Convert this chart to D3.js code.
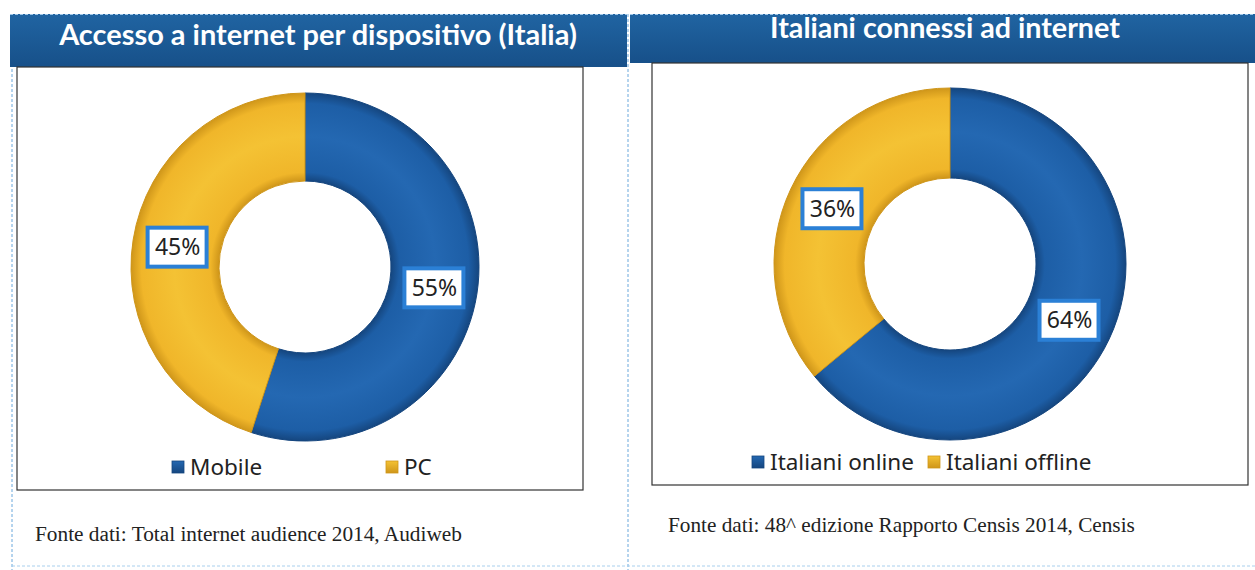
<!DOCTYPE html>
<html><head><meta charset="utf-8">
<script src="https://cdn.jsdelivr.net/npm/d3@7"></script>
<style>html,body{margin:0;padding:0;background:#fff;}svg{display:block;}</style>
</head><body>
<svg id="c" width="1255" height="570"></svg>
<script>
const leftTitle = "Accesso a internet per dispositivo (Italia)";
const leftCategories = ["Mobile", "PC"];
const leftValues = [55, 45];
const leftSource = "Fonte dati: Total internet audience 2014, Audiweb";

const rightTitle = "Italiani connessi ad internet";
const rightCategories = ["Italiani online", "Italiani offline"];
const rightValues = [64, 36];
const rightSource = "Fonte dati: 48^ edizione Rapporto Censis 2014, Censis";

const svg = d3.select("#c");
const defs = svg.append("defs");

const colors = {
  blue: {base: "#1d5ea6", light: "#2468b2", dark: "#15467f"},
  yellow: {base: "#f0b62a", light: "#f4c234", dark: "#cf961a"}
};

const panels = [
  {title: leftTitle, cats: leftCategories, vals: leftValues, src: leftSource,
   band: [10, 14, 617, 53], titleX: 318, titleY: 45, titleW: 518,
   box: [17, 67, 566, 423], cx: 305, cy: 267, ro: 174, ri: 86,
   legY: 467, legX: [172, 386], srcX: 35, srcY: 541, srcW: 427},
  {title: rightTitle, cats: rightCategories, vals: rightValues, src: rightSource,
   band: [630, 14, 625, 49], titleX: 945, titleY: 38, titleW: 350,
   box: [652, 63, 596, 422], cx: 950, cy: 264, ro: 176, ri: 86,
   legY: 462, legX: [752, 928], srcX: 668, srcY: 532, srcW: 467}
];

const bg = defs.append("linearGradient").attr("id", "band").attr("x1", 0).attr("y1", 0).attr("x2", 0).attr("y2", 1);
bg.append("stop").attr("offset", 0).attr("stop-color", "#2064a2");
bg.append("stop").attr("offset", 1).attr("stop-color", "#175089");

svg.append("line").attr("x1", 12).attr("x2", 12).attr("y1", 14).attr("y2", 570)
  .attr("stroke", "#6aa8dc").attr("stroke-width", 1).attr("stroke-dasharray", "3,2");
svg.append("line").attr("x1", 628).attr("x2", 628).attr("y1", 14).attr("y2", 570)
  .attr("stroke", "#6aa8dc").attr("stroke-width", 1).attr("stroke-dasharray", "3,2");
svg.append("line").attr("x1", 12).attr("x2", 1255).attr("y1", 566).attr("y2", 566)
  .attr("stroke", "#a9d0ee").attr("stroke-width", 1).attr("stroke-dasharray", "3,2");

panels.forEach((p, pi) => {
  svg.append("rect").attr("x", p.band[0]).attr("y", p.band[1]).attr("width", p.band[2]).attr("height", p.band[3])
    .attr("fill", "url(#band)");
  svg.append("line").attr("x1", p.band[0]).attr("x2", p.band[0] + p.band[2]).attr("y1", p.band[1] + 0.5).attr("y2", p.band[1] + 0.5)
    .attr("stroke", "#9cc4e6").attr("stroke-dasharray", "3,2");
  const t = svg.append("text").attr("x", p.titleX).attr("y", p.titleY).attr("text-anchor", "middle")
    .attr("fill", "#fff").attr("font-family", "Lato, 'Open Sans', sans-serif").attr("font-weight", "bold")
    .attr("font-size", 26).text(p.title);
  const w = t.node().getComputedTextLength();
  t.attr("font-size", 26 * p.titleW / w);

  svg.append("rect").attr("x", p.box[0]).attr("y", p.box[1]).attr("width", p.box[2]).attr("height", p.box[3])
    .attr("fill", "#fff").attr("stroke", "#333").attr("stroke-width", 1.2);

  const colorKeys = ["blue", "yellow"];
  colorKeys.forEach(k => {
    const g = defs.append("radialGradient").attr("id", `g${pi}${k}`).attr("gradientUnits", "userSpaceOnUse")
      .attr("cx", 0).attr("cy", 0).attr("r", p.ro);
    const f = p.ri / p.ro;
    g.append("stop").attr("offset", f).attr("stop-color", colors[k].dark);
    g.append("stop").attr("offset", f + 0.05).attr("stop-color", colors[k].base);
    g.append("stop").attr("offset", 0.75).attr("stop-color", colors[k].light);
    g.append("stop").attr("offset", 0.94).attr("stop-color", colors[k].base);
    g.append("stop").attr("offset", 1).attr("stop-color", colors[k].dark);
  });

  const pie = d3.pie().sort(null).value(d => d)(p.vals);
  const arc = d3.arc().innerRadius(p.ri).outerRadius(p.ro);
  const g = svg.append("g").attr("transform", `translate(${p.cx},${p.cy})`);
  g.selectAll("path").data(pie).join("path")
    .attr("d", arc)
    .attr("fill", (d, i) => `url(#g${pi}${colorKeys[i]})`)
    .attr("stroke", (d, i) => colors[colorKeys[i]].dark).attr("stroke-width", 1);

  const lab = g.selectAll("g.lab").data(pie).join("g").attr("class", "lab")
    .attr("transform", d => `translate(${arc.centroid(d)})`);
  lab.append("rect").attr("x", -29).attr("y", -19).attr("width", 59).attr("height", 39)
    .attr("fill", "#fff").attr("stroke", "#2b80d6").attr("stroke-width", 4);
  lab.append("text").attr("text-anchor", "middle").attr("x", 1).attr("dy", "0.36em")
    .attr("font-family", "'Noto Sans', 'Open Sans', sans-serif").attr("font-size", 23).attr("fill", "#222")
    .text(d => d.data + "%");

  p.cats.forEach((c, i) => {
    const lg = defs.append("linearGradient").attr("id", `lg${pi}${i}`).attr("x1", 0).attr("y1", 0).attr("x2", 0).attr("y2", 1);
    lg.append("stop").attr("offset", 0).attr("stop-color", colors[colorKeys[i]].light);
    lg.append("stop").attr("offset", 1).attr("stop-color", colors[colorKeys[i]].dark);
    svg.append("rect").attr("x", p.legX[i]).attr("y", p.legY - 6).attr("width", 12).attr("height", 12)
      .attr("fill", `url(#lg${pi}${i})`).attr("stroke", colors[colorKeys[i]].dark).attr("stroke-width", 0.8);
    svg.append("text").attr("x", p.legX[i] + 18).attr("y", p.legY).attr("dy", "0.36em")
      .attr("font-family", "'Noto Sans', 'Open Sans', sans-serif").attr("font-size", 22.5).attr("fill", "#222")
      .text(c);
  });

  const s = svg.append("text").attr("x", p.srcX).attr("y", p.srcY)
    .attr("font-family", "'Liberation Serif', 'Times New Roman', serif").attr("font-size", 18).attr("fill", "#222")
    .text(p.src);
  const sw = s.node().getComputedTextLength();
  s.attr("font-size", 18 * p.srcW / sw);
});
</script>
</body></html>
